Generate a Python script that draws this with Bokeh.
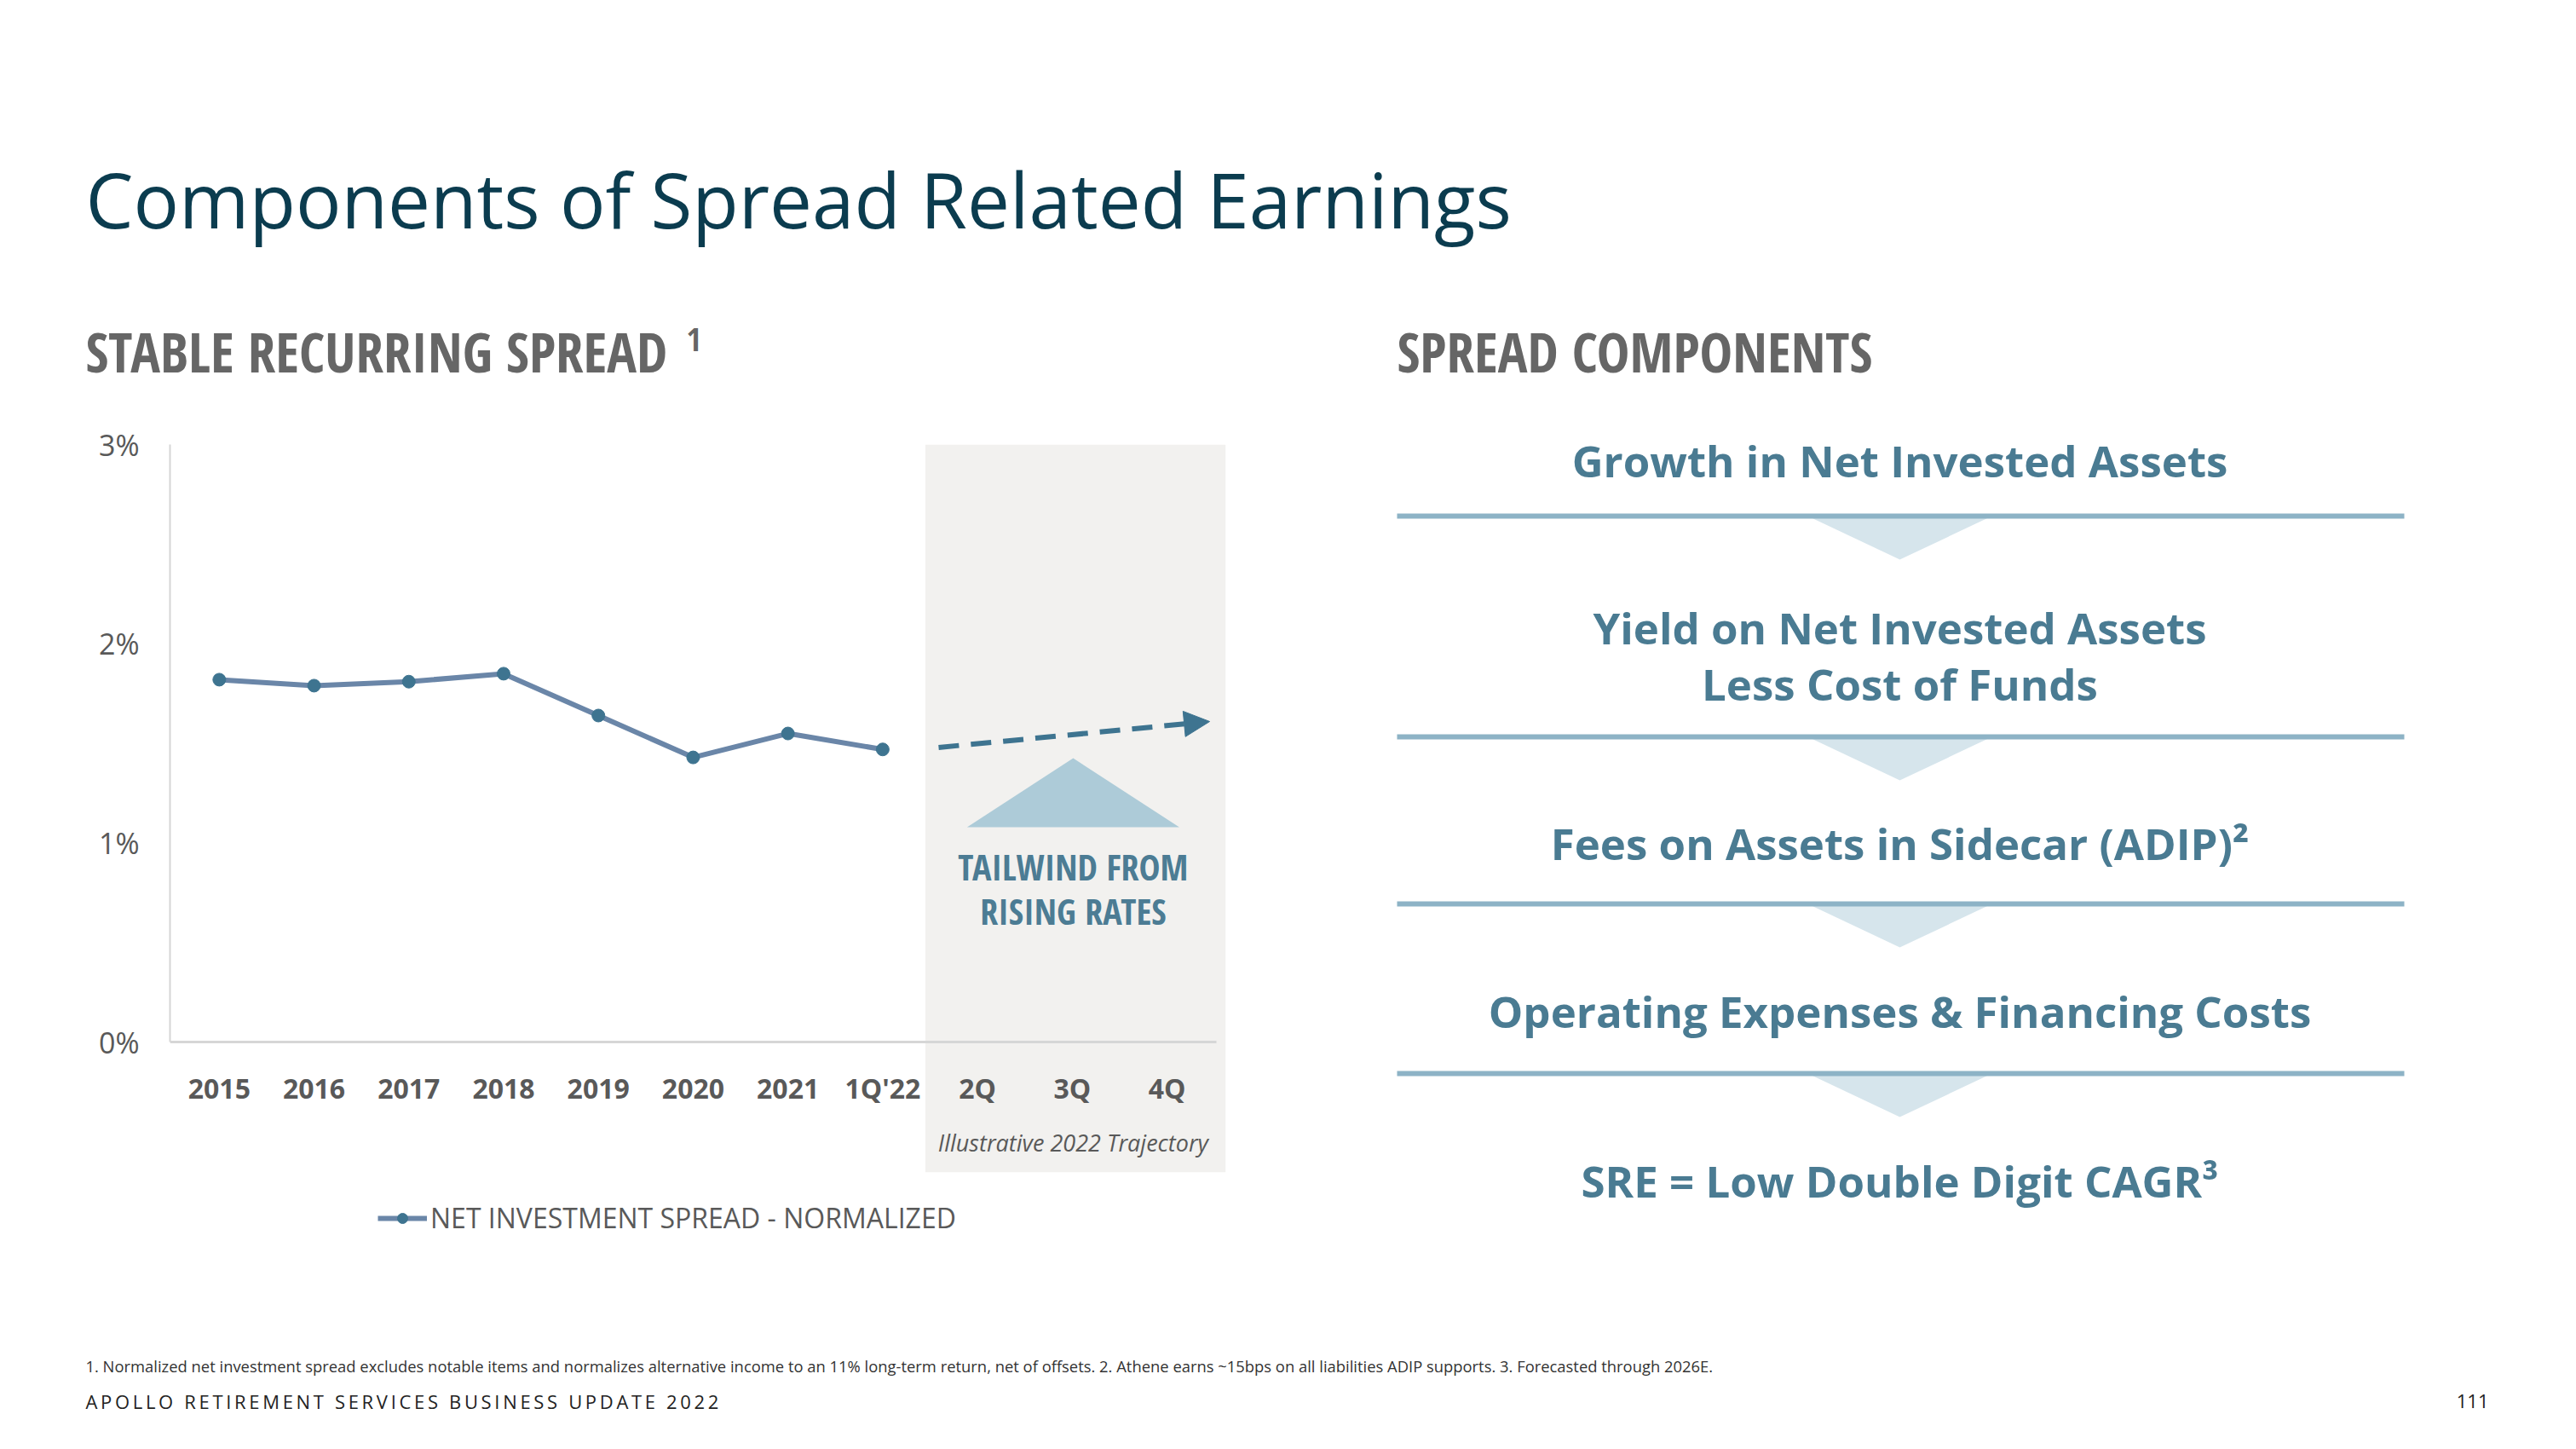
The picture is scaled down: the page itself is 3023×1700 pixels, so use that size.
from bokeh.plotting import figure
from bokeh.layouts import column, row
from bokeh.models import (Range1d, LinearAxis, FixedTicker, PrintfTickFormatter,
                          Legend, LegendItem, Arrow, NormalHead, ColumnDataSource)
from bokeh.core.properties import value
from bokeh.embed import file_html
from bokeh.resources import INLINE

# ---------------- data ----------------
categories = ["2015", "2016", "2017", "2018", "2019", "2020", "2021", "1Q'22", "2Q", "3Q", "4Q"]
spread_values = [1.82, 1.79, 1.81, 1.85, 1.64, 1.43, 1.55, 1.47]   # % net investment spread
y_ticks = [0, 1, 2, 3]
trajectory_start = 1.48
trajectory_end = 1.61
series_name = "NET INVESTMENT SPREAD - NORMALIZED"
components = ["Growth in Net Invested Assets",
              "Yield on Net Invested Assets\nLess Cost of Funds",
              "Fees on Assets in Sidecar (ADIP)\u00b2",
              "Operating Expenses & Financing Costs",
              "SRE = Low Double Digit CAGR\u00b3"]

# ---------------- styles ----------------
FONT = value("Open Sans")
COND = value("Open Sans Condensed")
GREY = "#595959"
SUB_GREY = "#666666"
DARK = "#0B3C4F"
STEEL = "#4A7B92"
LINE_C = "#6A86A8"
MARK_C = "#3E7490"

W = 3007
H_TOP, H_MID, H_BOT = 462, 1030, 192
W_L = 1532
W_R = W - W_L
MB_TOP, MB_BOT = 59, 10


def blank(width, height, xr, yr, **kw):
    p = figure(width=width, height=height, x_range=xr, y_range=yr,
               output_backend="svg", toolbar_location=None,
               x_axis_location=None, y_axis_location=None, min_border=0, **kw)
    p.grid.visible = False
    p.outline_line_color = None
    p.background_fill_color = "white"
    p.border_fill_color = "white"
    return p


# ---------------- header ----------------
header = blank(W, H_TOP, Range1d(0, W), Range1d(H_TOP, 0))
header.text(x=[100], y=[233], text=["Components of Spread Related Earnings"],
            text_font=FONT, text_font_size="89px", text_color=DARK,
            text_align="left", text_baseline="middle")
header.text(x=[100, 1639], y=[411, 411], text=["STABLE RECURRING SPREAD", "SPREAD COMPONENTS"],
            text_font=COND, text_font_size="65px", text_color=SUB_GREY,
            text_align="left", text_baseline="middle")
header.text(x=[805], y=[398], text=["1"], text_font=COND, text_font_size="38px",
            text_color=SUB_GREY, text_align="left", text_baseline="middle")

# ---------------- chart ----------------
x_lo, x_hi = -0.52, 10.62
chart = figure(width=W_L, height=H_MID, x_range=Range1d(x_lo, x_hi), y_range=Range1d(-1.110, 3.0),
               output_backend="svg", toolbar_location=None, x_axis_location=None,
               y_axis_location="left", min_border_left=199, min_border_right=94,
               min_border_top=MB_TOP, min_border_bottom=MB_BOT)
chart.grid.visible = False
chart.outline_line_color = None
chart.border_fill_color = "white"

# illustrative region
chart.quad(left=[7.45], right=[x_hi], bottom=[-0.651], top=[3.0],
           fill_color="#F2F1EF", line_color=None, level="underlay")

yax = chart.yaxis[0]
yax.ticker = FixedTicker(ticks=y_ticks)
yax.formatter = PrintfTickFormatter(format="%d%%")
yax.bounds = (0, 3)
yax.axis_line_color = "#D6D6D6"
yax.axis_line_width = 2
yax.major_tick_line_color = None
yax.minor_tick_line_color = None
yax.major_label_standoff = 30
yax.major_label_text_font = "Open Sans"
yax.major_label_text_font_size = "34px"
yax.major_label_text_color = GREY

xax = LinearAxis(fixed_location=0, ticker=FixedTicker(ticks=list(range(len(categories)))),
                 major_label_overrides={i: c for i, c in enumerate(categories)},
                 bounds=(-0.52, 10.52))
xax.axis_line_color = "#D6D6D6"
xax.axis_line_width = 3
xax.major_tick_line_color = None
xax.minor_tick_line_color = None
xax.major_label_standoff = 26
xax.major_label_text_font = "Open Sans"
xax.major_label_text_font_style = "bold"
xax.major_label_text_font_size = "32px"
xax.major_label_text_color = GREY
chart.add_layout(xax, "below")

src = ColumnDataSource(dict(x=list(range(len(spread_values))), y=spread_values))
ln = chart.line("x", "y", source=src, line_color=LINE_C, line_width=6)
pt = chart.scatter("x", "y", source=src, size=15, fill_color=MARK_C, line_color=MARK_C)

# illustrative trajectory
chart.add_layout(Arrow(x_start=7.59, y_start=trajectory_start, x_end=10.45, y_end=trajectory_end,
                       line_color=MARK_C, line_width=6, line_dash="24 14",
                       end=NormalHead(size=30, fill_color=MARK_C, line_color=MARK_C, line_width=1)))
chart.patch(x=[7.89, 9.01, 10.13], y=[1.08, 1.426, 1.08], fill_color="#ADCBD8", line_color=None)
chart.text(x=[9.01, 9.01], y=[0.882, 0.66], text=["TAILWIND FROM", "RISING RATES"],
           text_font=COND, text_font_size="42px", text_color="#4C7C94",
           text_align="center", text_baseline="middle")
chart.text(x=[9.01], y=[-0.503], text=["Illustrative 2022 Trajectory"],
           text_font=FONT, text_font_style="italic", text_font_size="27px", text_color=GREY,
           text_align="center", text_baseline="middle")

legend = Legend(items=[LegendItem(label=series_name, renderers=[ln, pt])],
                location=(244, 32), orientation="horizontal",
                border_line_color=None, background_fill_alpha=0,
                label_text_font="Open Sans", label_text_font_size="32px",
                label_text_color=GREY, glyph_width=58, glyph_height=30,
                padding=0, margin=0, label_standoff=4)
chart.add_layout(legend)

# ---------------- right panel ----------------
right = blank(W_R, H_MID, Range1d(W_L, W), Range1d(462 + H_MID - MB_BOT, 462 + MB_TOP))
right.min_border_top = MB_TOP
right.min_border_bottom = MB_BOT
cx = 2229
sep_y = [605, 864, 1060, 1259]
tri_half, tri_depth = 108, 51
right.patches(xs=[[cx - tri_half, cx + tri_half, cx] for _ in sep_y],
              ys=[[y, y, y + tri_depth] for y in sep_y],
              fill_color="#D6E5EC", line_color=None)
right.segment(x0=[1639] * 4, x1=[2821] * 4, y0=sep_y, y1=sep_y,
              line_color="#8DB3C6", line_width=6)
lines_text, lines_y = [], []
centers = [539, 768, 988, 1185, 1384]
for t, yc in zip(components, centers):
    parts = t.split("\n")
    if len(parts) == 1:
        lines_text.append(t); lines_y.append(yc)
    else:
        lines_text += parts; lines_y += [yc - 33, yc + 33]
right.text(x=[cx] * len(lines_text), y=lines_y, text=lines_text,
           text_font=FONT, text_font_style="bold", text_font_size="51px", text_color=STEEL,
           text_align="center", text_baseline="middle")

# ---------------- footer ----------------
footer = blank(W, H_BOT, Range1d(0, W), Range1d(462 + H_MID + H_BOT, 462 + H_MID))
footer.text(x=[100], y=[1602],
            text=["1. Normalized net investment spread excludes notable items and normalizes alternative income to an 11% long-term return, net of offsets. 2. Athene earns ~15bps on all liabilities ADIP supports.  3. Forecasted through 2026E."],
            text_font=FONT, text_font_size="18.4px", text_color="#333333",
            text_align="left", text_baseline="middle")
brand = "APOLLO RETIREMENT SERVICES BUSINESS UPDATE 2022"
spaced = "\u2006\u00a0\u2006".join("\u2006".join(w) for w in brand.split(" "))
footer.text(x=[100], y=[1643], text=[spaced],
            text_font=FONT, text_font_size="22px", text_color="#222222",
            text_align="left", text_baseline="middle")
footer.text(x=[2920], y=[1643], text=["111"], text_font=FONT, text_font_size="22px",
            text_color="#222222", text_align="right", text_baseline="middle")

layout = column(header, row(chart, right), footer)
open("out.html", "w").write(file_html(layout, INLINE))
